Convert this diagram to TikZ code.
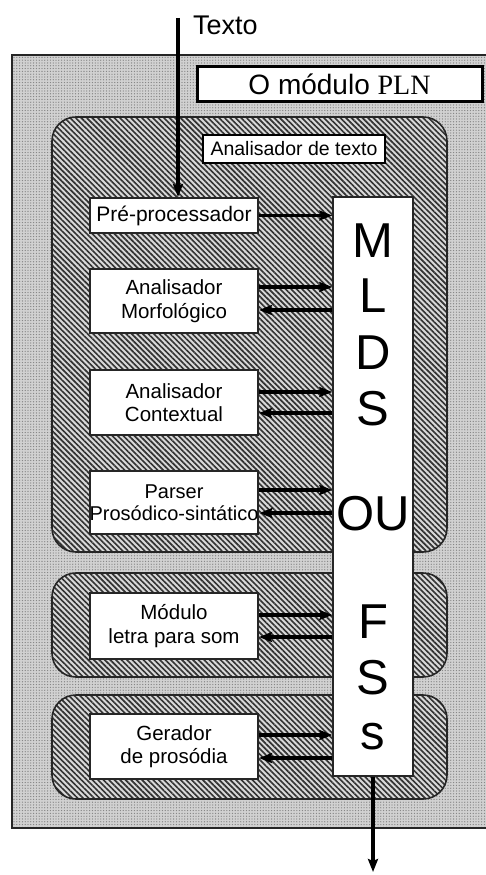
\documentclass[tikz,border=0pt]{standalone}
\usepackage{fontspec}
\setmainfont{Liberation Sans}
\newfontfamily\timesf{Liberation Serif}
\usetikzlibrary{patterns.meta,arrows.meta}
\begin{document}
\begin{tikzpicture}[x=1pt,y=-1pt,
  dotfill/.style={preaction={fill=black!18}, pattern={Dots[distance=2.8pt,radius=0.65pt]}, pattern color=black!50},
  hatchfill/.style={preaction={fill=black!15}, pattern={Lines[angle=-45,distance=3.9pt,line width=1.65pt]}, pattern color=black!80},
  groupbox/.style={hatchfill, draw=black!85, line width=1.6pt, rounded corners=24pt},
  procbox/.style={draw=black!85, line width=2pt, fill=white, align=center, inner sep=0pt,
    minimum width=168pt, font=\fontsize{20.5}{23.5}\selectfont},
  colletter/.style={inner sep=0pt, font=\fontsize{49}{52}\selectfont},
  arr/.style={draw=black, line width=3.6pt, -{Stealth[length=13pt,width=10pt,inset=2pt]}},
]
\useasboundingbox (0,0) rectangle (486,875);

% outer module area
\fill[dotfill] (12,55) rectangle (486,828);
\draw[line width=1.8pt, black!85] (486,55) -- (12,55) -- (12,828) -- (486,828);

% title
\node[draw=black, line width=3pt, fill=white, minimum width=285pt, minimum height=34pt, inner sep=0pt]
  (title) at (339.5,84) {\fontsize{28}{30}\selectfont O módulo {\timesf PLN}};

% group boxes
\path[groupbox] (52,117) rectangle (447,552);
\path[groupbox] (52,573) rectangle (447,677);
\path[groupbox] (52,695) rectangle (447,799);

\node[draw=black, line width=2.4pt, fill=white, minimum width=182pt, minimum height=28pt, inner sep=0pt,
  font=\fontsize{19.5}{22}\selectfont] (atl) at (294,149) {Analisador de texto};

% central column
\node[draw=black!85, line width=1.4pt, fill=white, minimum width=80pt, minimum height=579pt, inner sep=0pt]
  (col) at (373,486.5) {};
\node[colletter] (l1) at (373,240.5) {M};
\node[colletter] (l2) at (373,295.5) {L};
\node[colletter] (l3) at (373,352.5) {D};
\node[colletter] (l4) at (373,408.5) {S};
\node[colletter] (l5) at (373,513.5) {OU};
\node[colletter] (l6) at (373,621.5) {F};
\node[colletter] (l7) at (373,677.5) {S};
\node[colletter] (l8) at (373,736.5) {s};

% processing boxes
\node[procbox, minimum height=35pt, font=\fontsize{21}{24}\selectfont] (pre) at (174,215.5) {Pré-processador};
\node[procbox, minimum height=64pt] (morf) at (174,301) {Analisador\\Morfológico};
\node[procbox, minimum height=65pt] (ctx) at (174,402.5) {Analisador\\Contextual};
\node[procbox, minimum height=63pt, font=\fontsize{20}{23}\selectfont] (pars) at (174,502.5) {Parser\\[-1pt]Prosódico-sintático};
\node[procbox, minimum height=66pt] (mod) at (174,626) {Módulo\\letra para som};
\node[procbox, minimum height=65pt] (ger) at (174,746.5) {Gerador\\de prosódia};

% input text
\coordinate (tin) at (178,18);
\node[anchor=base west, inner sep=0pt, font=\fontsize{27}{30}\selectfont] (texto) at (193,35) {Texto};
\draw[arr] (tin) -- (tin |- pre.north);

% arrows to / from column
\draw[arr] (pre.east) -- (pre.east -| col.west);
\draw[arr] ([yshift=14pt]morf.east) -- ([yshift=14pt]morf.east -| col.west);
\draw[arr] ([yshift=-9pt]morf.east -| col.west) -- ([yshift=-9pt]morf.east);
\draw[arr] ([yshift=10.5pt]ctx.east) -- ([yshift=10.5pt]ctx.east -| col.west);
\draw[arr] ([yshift=-10.5pt]ctx.east -| col.west) -- ([yshift=-10.5pt]ctx.east);
\draw[arr] ([yshift=12.5pt]pars.east) -- ([yshift=12.5pt]pars.east -| col.west);
\draw[arr] ([yshift=-10.5pt]pars.east -| col.west) -- ([yshift=-10.5pt]pars.east);
\draw[arr] ([yshift=11pt]mod.east) -- ([yshift=11pt]mod.east -| col.west);
\draw[arr] ([yshift=-11pt]mod.east -| col.west) -- ([yshift=-11pt]mod.east);
\draw[arr] ([yshift=11.5pt]ger.east) -- ([yshift=11.5pt]ger.east -| col.west);
\draw[arr] ([yshift=-11.5pt]ger.east -| col.west) -- ([yshift=-11.5pt]ger.east);

% output
\coordinate (tout) at (373,872);
\draw[arr] (col.south) -- (tout);
\end{tikzpicture}
\end{document}
